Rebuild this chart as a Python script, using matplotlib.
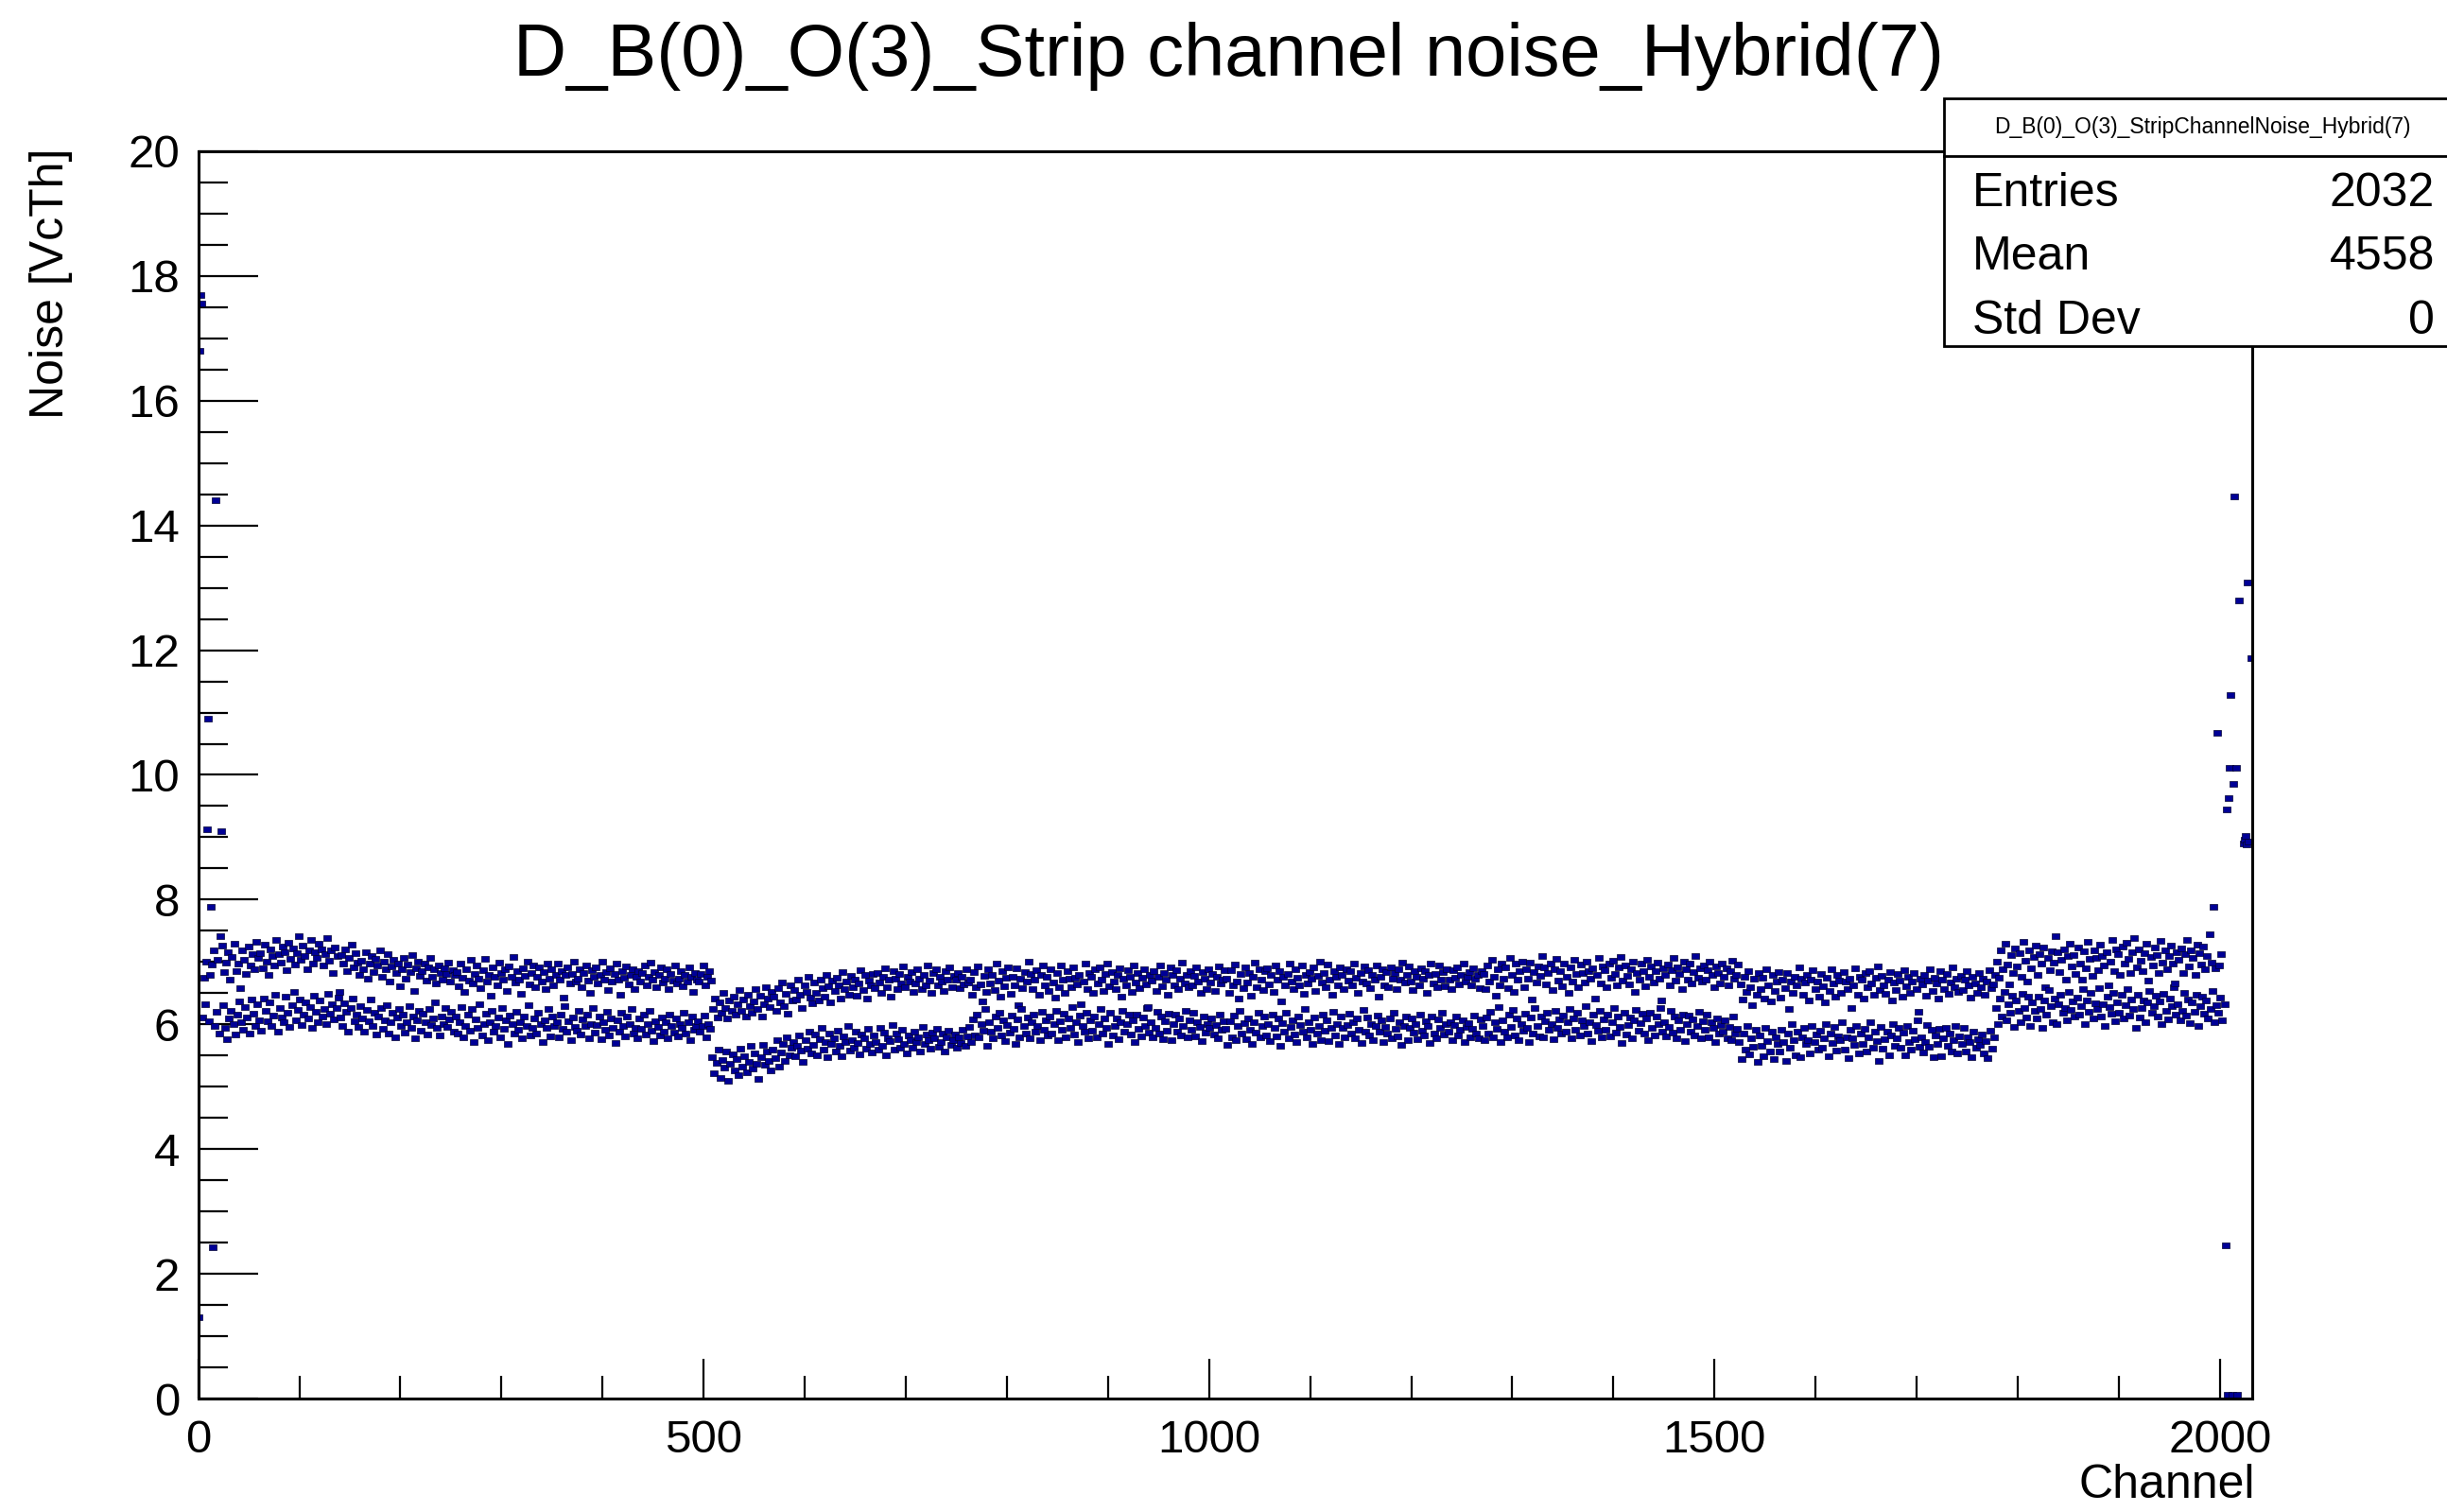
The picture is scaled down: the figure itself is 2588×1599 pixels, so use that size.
import numpy as np
import matplotlib
matplotlib.use("Agg")
import matplotlib.pyplot as plt
from matplotlib.ticker import MultipleLocator
from matplotlib.patches import Rectangle

plt.rcParams['font.family'] = ['Liberation Sans', 'DejaVu Sans']

# noise per strip, in 1/100 VcTh, 8 CBCs x 254 strips
# even strips (lower band) and odd strips (upper band) of every chip
even_ch = [
"""617 583 611 632 590 605 624 579 598 620
586 613 631 594 576 609 622 600 584 615
637 603 592 628 611 585 640 617 598 633
606 590 642 621 605 636 598 614 648 589
627 611 603 644 618 596 631 652 607 623
640 599 616 635 610 628 595 646 620 604
638 613 625 601 649 617 632 608 626 643
611 598 634 620 588 627 641 605 615 596
630 610 589 623 605 640 597 618 584 612
626 593 607 631 585 603 619 580 611 624
598 616 587 604 629 595 612 578 606 621
590 617 603 584 625 599 609 636 594 582
613 601 627 596 608 620 589""",
"""612 586 603 628 579 597 615 590 624 571
608 595 633 582 600 617 574 604 622 589
597 611 580 626 593 607 569 614 600 585
620 591 604 577 613 598 631 583 595 609
586 618 600 572 607 594 625 581 612 598
603 579 616 593 629 588 605 574 611 596
590 622 584 608 597 615 578 601 627 587
599 613 576 604 592 620 583 610 595 570
606 588 618 597 581 612 601 624 586 594
578 609 593 616 584 600 622 590 573 605
596 583 611 589 604 577 615 598 587 609
581 600 594 619 586 603 575 612 591 598
605 588 597 614 580 601 593""",
"""547 521 538 559 514 543 530 556 509 537
552 526 545 518 561 533 549 523 540 565
529 553 537 512 548 567 535 557 541 526
560 546 574 532 555 569 541 579 550 563
572 549 566 583 558 540 575 561 588 553
567 584 551 576 595 560 571 547 586 569
578 556 590 565 549 581 572 597 558 574
563 589 570 552 584 577 561 593 568 555
582 571 559 594 566 587 550 578 573 599
560 585 576 563 591 568 554 583 575 562
589 571 580 557 596 569 584 574 561 587
577 593 564 571 586 556 580 590 567 575
584 562 579 570 592 566 581""",
"""596 571 608 583 615 579 601 590 624 566
604 588 577 612 595 619 582 606 573 599
587 614 593 569 608 580 625 597 585 611
578 603 616 589 598 574 620 592 607 583
612 586 600 622 575 605 591 617 580 609
595 628 584 603 571 614 597 588 619 577
606 590 613 579 601 624 586 610 594 568
618 582 597 609 576 604 621 589 600 615
584 607 572 616 593 581 611 598 626 587
603 579 594 620 585 612 576 605 590 617
574 600 615 588 609 583 597 622 579 606
592 618 581 604 596 573 613 587 601 595
610 584 599 577 616 591 605""",
"""593 567 605 580 614 574 598 621 585 602
576 610 591 568 604 587 619 579 597 612
583 600 573 616 594 581 609 565 602 589
618 577 596 607 584 571 613 599 588 624
580 603 592 569 611 586 598 575 615 590
606 573 595 620 582 601 568 612 594 579
599 617 586 603 577 609 592 570 623 588
611 583 600 575 597 614 589 606 572 596
585 609 578 618 593 581 603 567 598 612
574 594 610 587 601 576 616 590 582 605
597 570 613 586 578 608 595 619 584 600
588 604 575 599 612 583 591 607 571 596
602 580 593 614 586 577 608""",
"""598 574 611 586 620 579 604 593 628 571
607 589 580 615 596 623 583 609 575 601
590 617 594 572 611 585 626 598 581 613
579 605 619 591 600 576 622 595 608 586
614 588 603 625 577 610 592 618 583 606
597 630 586 604 573 616 599 590 621 580
608 592 615 581 603 627 587 612 596 570
619 584 599 611 578 606 623 590 602 617
585 609 575 618 594 583 612 600 627 588
604 581 596 621 587 613 577 606 591 616
573 601 614 589 608 582 597 620 578 605
591 616 580 603 595 572 610 585 599 589
607 578 596 574 612 586 593""",
"""571 544 586 559 597 552 578 564 591 540
582 566 549 594 573 557 589 545 580 569
556 592 571 542 585 563 600 575 551 588
547 579 595 568 575 553 598 572 584 560
590 563 577 601 549 586 570 596 558 581
574 604 559 580 546 592 577 567 597 554
585 569 593 557 579 603 562 588 573 541
596 561 576 589 551 583 600 566 578 594
562 587 550 597 571 559 590 576 606 564
580 555 571 599 564 591 548 582 568 593
549 578 594 566 585 556 574 598 553 581
569 595 557 580 572 548 589 563 576 567
584 553 573 546 590 561 579""",
"""627 600 641 613 652 606 633 619 646 596
638 621 604 649 627 611 644 598 635 622
609 645 624 595 639 616 655 630 603 641
600 632 648 618 626 607 652 623 637 612
643 615 629 656 601 638 620 650 610 634
624 658 612 633 598 645 628 617 651 605
636 619 647 609 631 657 614 640 625 594
648 611 627 639 603 635 653 618 630 646
613 637 600 649 622 608 642 629 659 616
633 606 621 651 614 640 602 636 620 647
597 629 644 617 638 610 625 654 604 631
618 643 607 632 623 599 640 613 628 621
635 608 624 601 641 615 630""",
]

odd_ch = [
"""689 712 675 701 723 680 696 718 669 704
692 727 684 699 715 671 708 730 686 697
658 719 703 681 725 695 712 688 733 706
714 690 728 701 679 720 709 694 736 712
699 725 716 687 731 705 722 696 714 741
703 726 710 689 719 735 697 716 707 729
721 694 713 738 702 718 683 724 709 652
711 697 720 686 706 728 691 714 699 680
702 689 715 673 698 710 684 705 694 719
677 700 688 712 669 693 704 682 697 661
689 707 674 696 684 711 653 690 701 678
686 698 670 692 707 676 688 665 695 683
672 690 681 699 668 687 679""",
"""684 661 697 675 652 689 670 703 666 681
694 673 658 687 705 669 680 646 691 677
663 699 682 671 688 654 693 676 708 667
685 672 649 690 678 701 664 683 695 660
676 692 668 684 657 698 673 688 662 680
697 671 686 643 679 692 665 681 700 669
674 688 659 683 695 670 651 687 676 692
666 679 701 672 684 655 690 668 681 697
671 648 686 675 693 664 680 689 657 677
686 669 682 694 663 676 699 671 684 660
679 692 667 673 688 656 681 670 695 665
674 686 661 680 669 691 676 652 683 671
668 681 694 663 677 685 670""",
"""624 642 611 636 618 650 627 609 639 621
645 616 632 655 622 640 613 648 629 619
637 657 625 646 612 633 660 641 628 652
644 621 658 635 667 630 649 617 662 638
655 640 671 648 626 663 652 676 643 634
667 651 639 672 658 645 680 661 636 670
653 675 662 641 684 657 669 648 678 660
672 646 665 687 655 679 642 670 663 681
658 683 667 651 676 690 660 672 645 686
674 656 681 666 693 659 677 668 684 652
665 689 673 657 679 663 695 670 651 682
688 662 676 669 654 685 672 691 660 678
671 683 658 676 664 689 667""",
"""671 648 684 659 693 664 637 678 652 689
666 680 655 697 670 644 686 661 675 692
649 677 663 690 631 674 658 684 668 700
681 656 672 687 647 679 695 662 676 653
688 667 643 682 660 694 671 651 686 673
659 691 675 664 680 633 669 697 657 683
677 650 688 666 692 672 654 681 698 661
684 669 656 679 690 645 673 662 687 676
652 694 667 683 658 675 689 664 628 680
670 686 653 677 695 661 682 671 648 691
679 663 687 656 674 699 666 680 659 685
662 678 692 669 650 684 673 657 689 667
681 654 676 693 665 671 687""",
"""674 650 687 662 696 669 641 681 658 692
667 683 646 677 699 660 688 672 655 685
690 664 679 652 694 671 686 637 676 662
681 698 668 657 689 675 663 695 649 680
665 684 673 691 654 678 700 667 682 659
696 671 648 686 676 663 692 680 657 688
670 685 662 697 675 651 683 669 693 665
687 658 679 671 695 644 676 689 663 684
660 691 674 682 656 688 671 699 667 680
693 668 655 685 677 662 690 673 686 650
679 697 666 681 659 694 672 684 661 689
671 656 687 675 692 664 680 697 668 676
684 662 690 673 679 658 686""",
"""681 657 694 669 703 676 646 689 663 698
674 692 658 706 680 652 697 671 686 701
660 688 673 699 640 684 667 693 678 710
691 664 682 697 655 689 705 670 686 661
698 676 651 692 668 704 681 659 696 683
667 701 685 673 690 642 679 707 665 693
687 659 698 675 702 681 663 691 708 670
694 678 664 688 700 652 683 671 697 686
661 704 676 693 667 685 699 673 638 690
679 696 662 687 706 670 692 681 657 700
688 672 697 665 684 709 675 690 668 694
671 687 701 679 660 693 683 665 698 676
690 663 685 702 673 680 696""",
"""664 640 677 652 686 659 631 673 647 682
657 675 641 689 662 637 680 654 669 684
643 671 658 683 625 668 650 676 662 692
674 648 667 680 639 672 687 656 669 645
681 661 636 675 653 688 665 644 679 670
650 684 668 657 673 627 663 690 648 676
671 642 682 660 686 666 647 675 693 655
678 663 649 672 684 638 667 655 681 670
645 687 661 676 651 668 683 657 620 673
664 679 646 670 688 654 675 665 641 685
672 656 681 649 667 692 659 674 652 678
655 671 686 662 643 677 666 650 682 660
674 647 669 687 658 664 680""",
"""701 675 718 688 729 696 664 711 683 722
693 714 676 733 702 668 719 690 708 727
679 712 697 724 660 706 687 717 699 741
715 684 703 721 672 709 730 693 711 681
724 698 671 717 690 732 705 678 719 706
687 728 710 694 715 662 700 735 686 720
712 680 725 697 731 705 683 716 738 692
721 702 686 714 729 670 708 695 723 711
682 734 699 719 688 710 726 697 665 716
704 722 683 712 736 693 718 706 679 728
714 696 725 688 709 745 699 716 690 721
694 713 730 703 681 720 707 689 727 700
716 685 711 733 697 704 724""",
]

# strips far from the bands (first and last strips of the hybrid); 0 = empty
odd_strips = [0, 1, 2, 3, 8, 9, 12, 14, 17, 21, 22,
              1993, 1997, 2003, 2005, 2006, 2007, 2008, 2009, 2010, 2011,
              2012, 2013, 2014, 2015, 2016, 2017, 2018, 2019, 2020, 2021,
              2022, 2023, 2024, 2025, 2026, 2027, 2028, 2029, 2030, 2031]
odd_noise = [1.30, 16.8, 17.7, 17.55, 9.13, 10.9, 7.88, 2.43, 14.4, 7.42, 9.10,
             7.88, 10.67, 0.0, 2.45, 9.44, 0.06, 9.63, 10.12, 11.28, 0.0,
             0.06, 9.86, 14.46, 0.0, 10.12, 0.06, 12.80, 0.0, 0.0, 0.0,
             0.0, 8.90, 8.96, 9.02, 8.88, 13.08, 8.93, 0.0, 0.0, 11.87]

n_strips = 254
n_chips = len(even_ch)
noise = np.zeros(n_chips * n_strips)
for c in range(n_chips):
    ev = np.array(even_ch[c].split(), dtype=float) / 100
    od = np.array(odd_ch[c].split(), dtype=float) / 100
    noise[c * n_strips:(c + 1) * n_strips:2] = ev
    noise[c * n_strips + 1:(c + 1) * n_strips:2] = od
noise[odd_strips] = odd_noise
channel = np.arange(len(noise)) + 0.5
filled = noise > 0

fig = plt.figure(figsize=(25.88, 15.99), dpi=100)
ax = fig.add_axes([0.081, 0.075, 0.8394, 0.825])

rect = [(-1, -0.7), (1, -0.7), (1, 0.7), (-1, 0.7), (-1, -0.7)]
ax.plot(channel[filled], noise[filled], linestyle='none', marker=rect, ms=5.5,
        color='#000096', mec='#000030', mew=0.5)

ax.set_xlim(0, 2032)
ax.set_ylim(0, 20)
ax.xaxis.set_major_locator(MultipleLocator(500))
ax.xaxis.set_minor_locator(MultipleLocator(100))
ax.yaxis.set_major_locator(MultipleLocator(2))
ax.yaxis.set_minor_locator(MultipleLocator(0.5))
ax.tick_params(axis='both', which='both', direction='in', width=1.6,
               labelsize=35.5, colors='black')
ax.tick_params(axis='x', which='major', length=30, pad=16)
ax.tick_params(axis='x', which='minor', length=17)
ax.tick_params(axis='y', which='major', length=45, pad=14)
ax.tick_params(axis='y', which='minor', length=22)
for sp in ax.spines.values():
    sp.set_linewidth(2.2)

fig.text(0.502, 0.963, 'D_B(0)_O(3)_Strip channel noise_Hybrid(7)',
         fontsize=56, ha='center', va='center')
fig.text(0.021, 0.902, 'Noise [VcTh]', fontsize=36, rotation=90,
         ha='center', va='top')
fig.text(0.9216, 0.0175, 'Channel', fontsize=36, ha='right', va='center')

# stats box
box = Rectangle((0.7944, 0.771), 0.23, 0.164, transform=fig.transFigure,
                facecolor='white', edgecolor='black', lw=2, zorder=5)
fig.patches.append(box)
fig.add_artist(plt.Line2D([0.7944, 1.0], [0.8968, 0.8968], color='black',
                          lw=2, zorder=6))
fig.text(0.9, 0.916, 'D_B(0)_O(3)_StripChannelNoise_Hybrid(7)',
         fontsize=16.5, ha='center', va='center', zorder=7)
stat_names = ['Entries', 'Mean', 'Std Dev']
stat_vals = ['2032', '4558', '0']
for i, (nm, v) in enumerate(zip(stat_names, stat_vals)):
    yy = 0.872 - i * 0.0423
    fig.text(0.806, yy, nm, fontsize=36, ha='left', va='center', zorder=7)
    fig.text(0.995, yy, v, fontsize=36, ha='right', va='center', zorder=7)

fig.savefig('out.png', dpi=100, facecolor='white')
